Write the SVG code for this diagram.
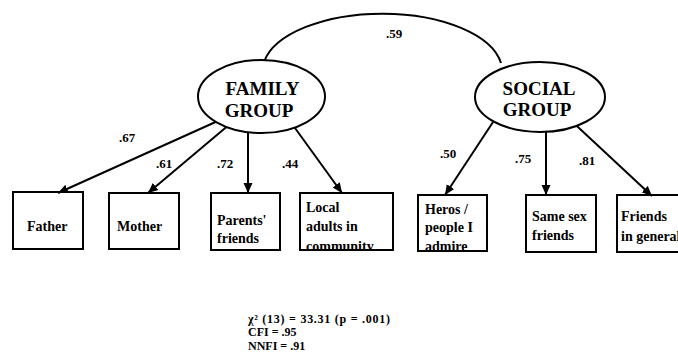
<svg xmlns="http://www.w3.org/2000/svg" width="678" height="353" viewBox="0 0 678 353">
  <style>
    .conn { fill: none; stroke: #000; stroke-width: 2; }
    .arrow { marker-end: url(#head); }
    .latent { fill: #fff; stroke: #000; stroke-width: 2; }
    .box { fill: none; stroke: #000; stroke-width: 2; }
    .lt { font-family: "Liberation Serif", "Times New Roman", serif; font-weight: bold; font-size: 19px; text-anchor: middle; }
    .bt { font-family: "Liberation Serif", "Times New Roman", serif; font-weight: bold; font-size: 14px; }
    .w { font-family: "Liberation Serif", "Times New Roman", serif; font-weight: bold; font-size: 13px; text-anchor: middle; }
    .fit { font-family: "Liberation Serif", "Times New Roman", serif; font-weight: bold; font-size: 12px; }
  </style>
  <defs>
    <marker id="head" markerUnits="userSpaceOnUse" markerWidth="12" markerHeight="10" refX="10" refY="5" orient="auto">
      <path d="M0,0.5 L10,5 L0,9.5 Z" fill="#000"/>
    </marker>
    <clipPath id="clip-local"><rect x="300" y="193" width="93" height="56"/></clipPath>
    <clipPath id="clip-heros"><rect x="418" y="195" width="69" height="55"/></clipPath>
    <clipPath id="clip-friends"><rect x="617" y="195" width="70" height="56"/></clipPath>
  </defs>

  <!-- paths and the factor correlation -->
  <g id="connectors">
    <path class="conn" d="M 264 62 A 120 58 0 0 1 501 63"/>
    <line class="conn arrow" x1="220" y1="120" x2="58" y2="193"/>
    <line class="conn arrow" x1="230" y1="124" x2="148" y2="193"/>
    <line class="conn arrow" x1="248" y1="125" x2="248" y2="193"/>
    <line class="conn arrow" x1="291" y1="122.5" x2="342" y2="193"/>
    <line class="conn arrow" x1="497" y1="116" x2="445" y2="195"/>
    <line class="conn arrow" x1="546" y1="125" x2="546" y2="195"/>
    <line class="conn arrow" x1="572" y1="121.4" x2="652" y2="196"/>
  </g>

  <!-- path coefficients -->
  <g id="weights">
    <text class="w" x="394" y="38">.59</text>
    <text class="w" x="127" y="142">.67</text>
    <text class="w" x="164" y="168">.61</text>
    <text class="w" x="225" y="168">.72</text>
    <text class="w" x="290" y="168">.44</text>
    <text class="w" x="448" y="158">.50</text>
    <text class="w" x="523" y="163">.75</text>
    <text class="w" x="587" y="165">.81</text>
  </g>

  <g id="family-group">
    <ellipse class="latent" cx="261.5" cy="96.5" rx="63.5" ry="36.5"/>
    <text class="lt" x="262.5" y="95">FAMILY</text>
    <text class="lt" x="259" y="117">GROUP</text>
  </g>

  <g id="social-group">
    <ellipse class="latent" cx="540" cy="97" rx="65" ry="35"/>
    <text class="lt" x="539" y="95">SOCIAL</text>
    <text class="lt" x="537" y="116">GROUP</text>
  </g>

  <g id="father">
    <rect class="box" x="13" y="192" width="70" height="57"/>
    <text class="bt" x="27" y="231">Father</text>
  </g>

  <g id="mother">
    <rect class="box" x="109" y="193" width="70" height="56"/>
    <text class="bt" x="117" y="231">Mother</text>
  </g>

  <g id="parents-friends">
    <rect class="box" x="211" y="193" width="69" height="57"/>
    <text class="bt" x="217" y="225">Parents'</text>
    <text class="bt" x="217" y="243">friends</text>
  </g>

  <g id="local-adults">
    <g clip-path="url(#clip-local)">
      <text class="bt" x="306" y="212">Local</text>
      <text class="bt" x="306" y="231">adults in</text>
      <text class="bt" x="306" y="251">community</text>
    </g>
    <rect class="box" x="300" y="193" width="93" height="57"/>
  </g>

  <g id="heros">
    <g clip-path="url(#clip-heros)">
      <text class="bt" x="425" y="214">Heros /</text>
      <text class="bt" x="425" y="232">people I</text>
      <text class="bt" x="425" y="251">admire</text>
    </g>
    <rect class="box" x="418" y="195" width="69" height="56"/>
  </g>

  <g id="same-sex-friends">
    <rect class="box" x="526" y="195" width="70" height="57"/>
    <text class="bt" x="532" y="221">Same sex</text>
    <text class="bt" x="532" y="240">friends</text>
  </g>

  <g id="friends-in-general">
    <g clip-path="url(#clip-friends)">
      <text class="bt" x="621" y="221">Friends</text>
      <text class="bt" x="621" y="241">in general</text>
    </g>
    <rect class="box" x="617" y="195" width="70" height="57"/>
  </g>

  <!-- model fit -->
  <g id="fit-indices">
    <text class="fit" x="248" y="322.5" textLength="142" lengthAdjust="spacing">χ² (13) = 33.31 (p = .001)</text>
    <text class="fit" x="248" y="336">CFI = .95</text>
    <text class="fit" x="248" y="349.5">NNFI = .91</text>
  </g>
</svg>
